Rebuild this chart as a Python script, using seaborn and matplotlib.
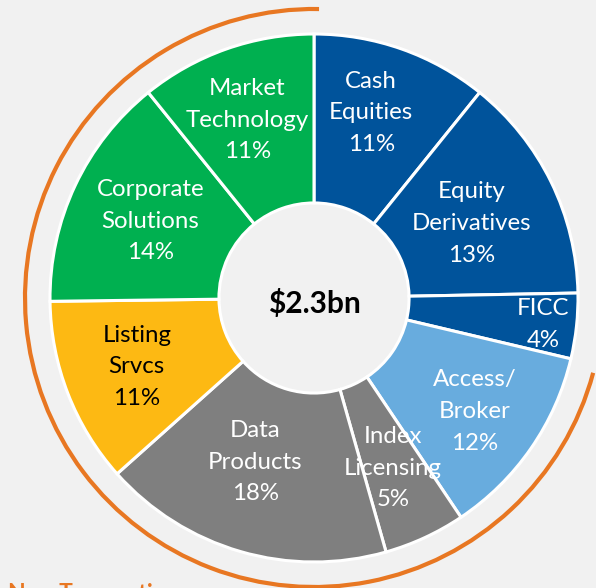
import matplotlib
matplotlib.use('Agg')
import matplotlib.pyplot as plt
from matplotlib.patches import Arc
import numpy as np
import seaborn as sns

# revenue mix, clockwise from 12 o'clock
segments = ['Cash\nEquities', 'Equity\nDerivatives', 'FICC', 'Access/\nBroker',
            'Index\nLicensing', 'Data\nProducts', 'Listing\nSrvcs',
            'Corporate\nSolutions', 'Market\nTechnology']
pct_labels = ['11%', '13%', '4%', '12%', '5%', '18%', '11%', '14%', '11%']
shares = [10.8, 13.9, 4.0, 11.9, 5.0, 17.8, 11.4, 14.4, 10.8]
total_label = '$2.3bn'
footer = 'Non-Transaction'

colors = ['#00539b', '#00539b', '#00539b', '#68acde', '#7f7f7f', '#7f7f7f',
          '#fdb913', '#00b050', '#00b050']
text_colors = ['white'] * 6 + ['black'] + ['white'] * 2
label_r = [0.735, 0.66, 0.875, 0.745, 0.71, 0.66, 0.72, 0.685, 0.72]
label_dang = [-2.3, 0.8, 0.5, 0.5, 0, 3.4, 0, 0, -1.1]

bg = '#f1f1f1'
orange = '#e87722'

sns.set_style('white')
plt.rcParams['font.family'] = ['Lato', 'DejaVu Sans']

W, H = 596, 588
R = 264.0
cx, cy = 314, 290  # centre in pixels, y from bottom

fig = plt.figure(figsize=(W / 100, H / 100), dpi=100, facecolor=bg)
ax = fig.add_axes([0, 0, 1, 1])
ax.set_facecolor(bg)

wedges, _ = ax.pie(shares, colors=colors, startangle=90, counterclock=False,
                   radius=1.0,
                   wedgeprops=dict(width=1 - 0.36, edgecolor='white', linewidth=2.2))

for w, seg, pct, tc, r, da in zip(wedges, segments, pct_labels, text_colors, label_r, label_dang):
    mid = np.deg2rad((w.theta1 + w.theta2) / 2 - da)
    ax.text(r * np.cos(mid), r * np.sin(mid), seg + '\n' + pct, ha='center', va='center',
            color=tc, fontsize=17.3, linespacing=1.62)

ax.text(0, -0.02, total_label, ha='center', va='center', fontsize=21.5,
        fontweight='bold', color='black')

ax.add_patch(Arc((0, 0), 2 * 289 / R, 2 * 289 / R, theta1=89, theta2=345,
                 color=orange, linewidth=3.0))

ax.set_xlim(-cx / R, (W - cx) / R)
ax.set_ylim(-cy / R, (H - cy) / R)
ax.set_aspect('auto')
ax.axis('off')

fig.text(7 / W, -12 / H, footer, ha='left', va='baseline', fontsize=16.5,
         fontweight='bold', color=orange)

fig.savefig('out.png', dpi=100, facecolor=bg)
